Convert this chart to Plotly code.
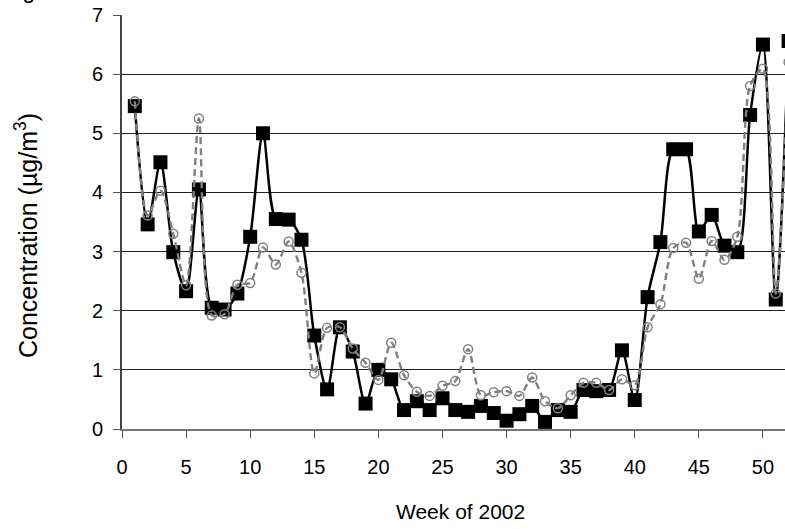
import plotly.graph_objects as go

weeks = list(range(1, 53))
series_a = [5.46, 3.46, 4.51, 2.99, 2.33, 4.05, 2.05, 2.02, 2.29, 3.25, 5.00, 3.55, 3.54, 3.20,
            1.58, 0.67, 1.72, 1.31, 0.43, 1.00, 0.84, 0.32, 0.47, 0.32, 0.52, 0.32, 0.29, 0.39,
            0.27, 0.14, 0.25, 0.39, 0.12, 0.32, 0.29, 0.66, 0.64, 0.66, 1.33, 0.49, 2.23, 3.16,
            4.73, 4.73, 3.34, 3.62, 3.10, 2.99, 5.31, 6.50, 2.19, 6.56]
series_b = [5.54, 3.61, 4.03, 3.30, 2.43, 5.25, 1.92, 1.94, 2.44, 2.47, 3.07, 2.78, 3.17, 2.64,
            0.94, 1.71, 1.72, 1.36, 1.12, 0.83, 1.46, 0.91, 0.63, 0.56, 0.73, 0.81, 1.35, 0.57,
            0.62, 0.64, 0.56, 0.87, 0.47, 0.35, 0.57, 0.78, 0.78, 0.66, 0.84, 0.74, 1.72, 2.11,
            3.06, 3.15, 2.54, 3.18, 2.86, 3.25, 5.80, 6.09, 2.29, 6.20]
x_ticks = [0, 5, 10, 15, 20, 25, 30, 35, 40, 45, 50]
y_ticks = [0, 1, 2, 3, 4, 5, 6, 7]

FONT = "Liberation Sans, Arial, sans-serif"

fig = go.Figure()
fig.add_trace(go.Scatter(
    x=weeks, y=series_a, mode="lines+markers",
    line=dict(color="#000000", width=2.5, shape="spline", smoothing=0.8),
    marker=dict(symbol="square", size=14, color="#000000"),
    showlegend=False))
fig.add_trace(go.Scatter(
    x=weeks, y=series_b, mode="lines+markers",
    line=dict(color="#7f7f7f", width=2.4, dash="7px,4px", shape="spline", smoothing=0.8),
    marker=dict(symbol="circle-open", size=9, color="#808080", line=dict(width=1.5)),
    showlegend=False))

fig.update_layout(
    width=785, height=529,
    margin=dict(l=122, r=0, t=15, b=100, autoexpand=False),
    paper_bgcolor="white", plot_bgcolor="white",
    font=dict(family=FONT, size=20, color="#000000"),
    xaxis=dict(range=[0, 51.72], tickvals=x_ticks, ticks="outside", ticklen=7,
               tickcolor="#555555", showline=True, linecolor="#777777", linewidth=2,
               showgrid=False, zeroline=False, ticklabelstandoff=12, automargin=False,
               tickfont=dict(size=20)),
    yaxis=dict(range=[0, 7], tickvals=y_ticks, ticks="outside", ticklen=7,
               tickcolor="#555555", showline=True, linecolor="#444444", linewidth=2,
               showgrid=True, gridcolor="#222222", gridwidth=1, zeroline=False,
               ticklabelstandoff=6, automargin=False, tickfont=dict(size=20)),
    annotations=[
        dict(text="Concentration (µg/m<sup>3</sup>)", textangle=-90, xref="paper", yref="paper",
             x=(26 - 122) / 663, y=(429 - 235) / 414, xanchor="center", yanchor="middle",
             showarrow=False, font=dict(size=25)),
        dict(text="Week of 2002", xref="paper", yref="paper",
             x=(460 - 122) / 663, y=(429 - 511) / 414, xanchor="center", yanchor="middle",
             showarrow=False, font=dict(size=21)),
        dict(text="3", xref="paper", yref="paper",
             x=(28 - 122) / 663, y=(429 - 9) / 414, xanchor="center", yanchor="bottom",
             showarrow=False, font=dict(size=20)),
    ],
)

fig.write_html("out.html", config={"displayModeBar": False},
               post_script="document.body.style.margin='0';document.body.style.overflow='hidden';")
